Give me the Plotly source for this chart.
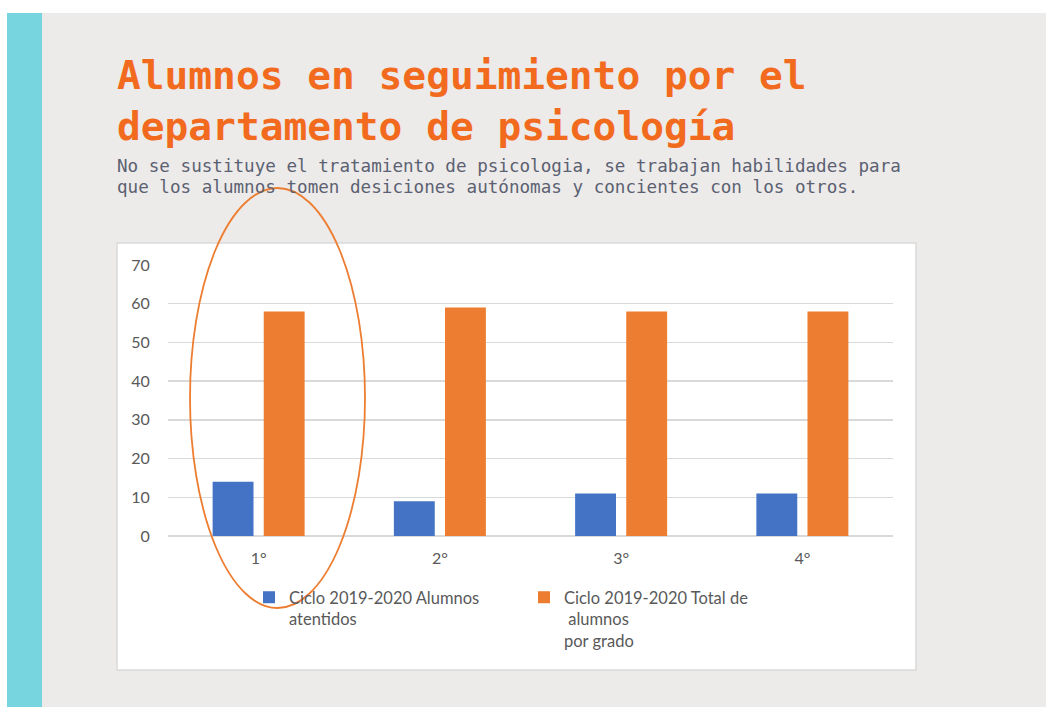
import plotly.graph_objects as go

W, H = 1046, 707

categories = ["1°", "2°", "3°", "4°"]
alumnos_atendidos = [14, 9, 11, 11]
total_alumnos = [58, 59, 58, 58]
series_names = [
    "Ciclo 2019-2020 Alumnos<br>atentidos",
    "Ciclo 2019-2020 Total de<br> alumnos<br>por grado",
]
y_ticks = [0, 10, 20, 30, 40, 50, 60, 70]
title_lines = ["Alumnos en seguimiento por el", "departamento de psicología"]
subtitle_lines = [
    "No se sustituye el tratamiento de psicologia, se trabajan habilidades para",
    "que los alumnos tomen desiciones autónomas y concientes con los otros.",
]

BLUE = "#4472C4"
ORANGE = "#ED7D31"
TITLE_ORANGE = "#F26A1E"
GRAY_BG = "#EDEBE9"
CYAN = "#76D5DE"
GRID = "#D9D9D9"
TICK_COLOR = "#595959"
SUB_COLOR = "#5B6172"


def px(x):
    return x / W


def py(y):
    return 1 - y / H


fig = go.Figure()
fig.add_trace(go.Bar(x=categories, y=alumnos_atendidos, name=series_names[0],
                     marker=dict(color=BLUE, line=dict(width=0))))
fig.add_trace(go.Bar(x=categories, y=total_alumnos, name=series_names[1],
                     marker=dict(color=ORANGE, line=dict(width=0))))

shapes = [
    dict(type="rect", xref="paper", yref="paper", x0=px(7), x1=px(42), y0=py(707), y1=py(13),
         fillcolor=CYAN, line=dict(width=0), layer="below"),
    dict(type="rect", xref="paper", yref="paper", x0=px(42), x1=px(1046), y0=py(707), y1=py(13),
         fillcolor=GRAY_BG, line=dict(width=0), layer="below"),
    dict(type="rect", xref="paper", yref="paper", x0=px(117), x1=px(916), y0=py(670), y1=py(243),
         fillcolor="white", line=dict(color="#DADADA", width=1.5), layer="below"),
    dict(type="circle", xref="paper", yref="paper", x0=px(190), x1=px(365), y0=py(608), y1=py(188),
         fillcolor="rgba(0,0,0,0)", line=dict(color=ORANGE, width=1.8), layer="above"),
]

annotations = [
    dict(xref="paper", yref="paper", x=px(115), y=py(101), xanchor="left", yanchor="middle",
         align="left", showarrow=False,
         text="<b>" + "<br>".join(title_lines) + "</b>",
         font=dict(family="DejaVu Sans Mono", size=39.5, color=TITLE_ORANGE)),
]
for i, line in enumerate(subtitle_lines):
    annotations.append(dict(xref="paper", yref="paper", x=px(115), y=py(166 + 21 * i),
                            xanchor="left", yanchor="middle", align="left", showarrow=False,
                            text=line,
                            font=dict(family="DejaVu Sans Mono", size=17.6, color=SUB_COLOR)))

fig.update_layout(
    width=W, height=H,
    margin=dict(l=0, r=0, t=0, b=0, autoexpand=False),
    paper_bgcolor="white",
    plot_bgcolor="rgba(0,0,0,0)",
    barmode="group",
    bargap=0.436,
    bargroupgap=0.2,
    shapes=shapes,
    annotations=annotations,
    showlegend=True,
    legend=dict(orientation="h", xref="paper", yref="paper", x=px(249), y=py(580),
                xanchor="left", yanchor="top", valign="top",
                entrywidth=230, entrywidthmode="pixels",
                bgcolor="rgba(0,0,0,0)",
                font=dict(family="Lato", size=16.5, color=TICK_COLOR),
                itemclick=False, itemdoubleclick=False),
    xaxis=dict(domain=[px(168), px(893)], showgrid=False, showline=False, zeroline=False,
               automargin=False,
               ticks="outside", ticklen=8, tickcolor="rgba(0,0,0,0)",
               tickfont=dict(family="Lato", size=16, color=TICK_COLOR)),
    yaxis=dict(domain=[py(536), py(265)], range=[0, 70], tickvals=y_ticks,
               automargin=False,
               showgrid=True, gridcolor=GRID, gridwidth=1.5,
               zeroline=True, zerolinecolor=GRID, zerolinewidth=1.5, showline=False,
               ticks="outside", ticklen=14, tickcolor="rgba(0,0,0,0)",
               tickfont=dict(family="Lato", size=16, color=TICK_COLOR)),
)

pin_script = (
    "document.body.style.margin='0';"
    "document.body.style.overflow='hidden';"
    "var gd=document.getElementById('{plot_id}');"
    "gd.style.position='fixed';gd.style.left='0px';gd.style.top='0px';"
)

fig.write_html("out.html", config={"displayModeBar": False, "staticPlot": True},
               post_script=pin_script)
